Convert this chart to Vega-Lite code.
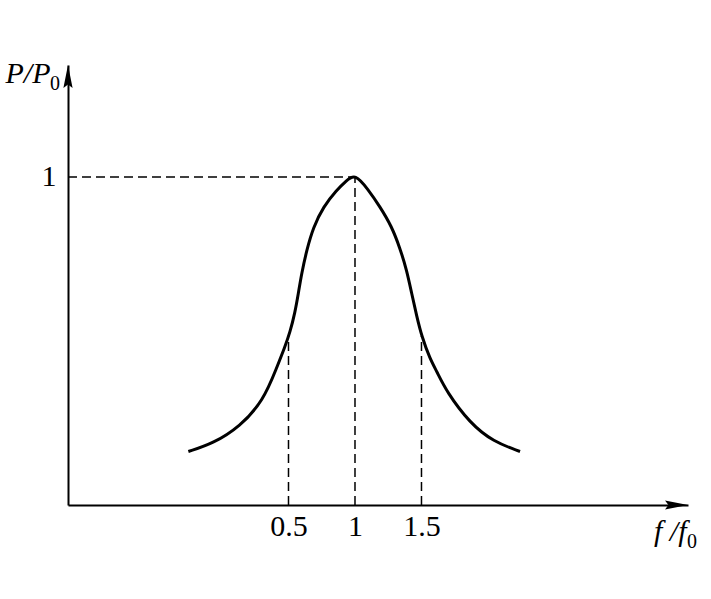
{
  "$schema": "https://vega.github.io/schema/vega-lite/v6.json",
  "width": 620,
  "height": 440,
  "autosize": "none",
  "padding": {"left": 68, "top": 65, "right": 23, "bottom": 94},
  "background": "white",
  "config": {"view": {"stroke": null}},
  "datasets": {
    "curve": [
      {"f": -0.253, "p": 0.163},
      {"f": -0.253, "p": 0.163},
      {"f": -0.065, "p": 0.188},
      {"f": 0.135, "p": 0.239},
      {"f": 0.311, "p": 0.318},
      {"f": 0.411, "p": 0.418},
      {"f": 0.474, "p": 0.483},
      {"f": 0.511, "p": 0.526},
      {"f": 0.549, "p": 0.587},
      {"f": 0.574, "p": 0.645},
      {"f": 0.599, "p": 0.706},
      {"f": 0.637, "p": 0.777},
      {"f": 0.686, "p": 0.846},
      {"f": 0.762, "p": 0.909},
      {"f": 0.862, "p": 0.960},
      {"f": 0.935, "p": 0.988},
      {"f": 1.0, "p": 1.01},
      {"f": 1.098, "p": 0.962},
      {"f": 1.188, "p": 0.909},
      {"f": 1.276, "p": 0.849},
      {"f": 1.338, "p": 0.783},
      {"f": 1.389, "p": 0.716},
      {"f": 1.426, "p": 0.645},
      {"f": 1.464, "p": 0.576},
      {"f": 1.501, "p": 0.515},
      {"f": 1.564, "p": 0.445},
      {"f": 1.614, "p": 0.408},
      {"f": 1.689, "p": 0.345},
      {"f": 1.865, "p": 0.249},
      {"f": 2.040, "p": 0.193},
      {"f": 2.241, "p": 0.163},
      {"f": 2.241, "p": 0.163}
    ],
    "guides": [
      {"f1": -1.158, "f2": 1.0, "p1": 1.0, "p2": 1.0},
      {"f1": 0.5, "f2": 0.5, "p1": 0.0, "p2": 0.51},
      {"f1": 1.0, "f2": 1.0, "p1": 0.0, "p2": 1.0},
      {"f1": 1.5, "f2": 1.5, "p1": 0.0, "p2": 0.515}
    ]
  },
  "layer": [
    {
      "data": {"name": "guides"},
      "mark": {"type": "rule", "color": "black", "strokeWidth": 1.5, "strokeDash": [9, 5]},
      "encoding": {
        "x": {"field": "f1", "type": "quantitative",
          "scale": {"domain": [-1.158, 3.504], "nice": false, "zero": false},
          "axis": {
            "values": [0.5, 1, 1.5],
            "labelExpr": "datum.value == 1 ? '1' : format(datum.value, '.1f')",
            "ticks": false, "grid": false,
            "domainColor": "black", "domainWidth": 2,
            "labelFont": "Liberation Serif", "labelFontSize": 30, "labelColor": "black",
            "labelPadding": 6, "labelFlush": false,
            "title": "f /f",
            "titleFont": "Liberation Serif", "titleFontSize": 30, "titleFontStyle": "italic",
            "titleFontWeight": "normal", "titleColor": "black",
            "titleAlign": "right", "titleBaseline": "alphabetic",
            "titleX": 618, "titleY": 35
          }},
        "x2": {"field": "f2"},
        "y": {"field": "p1", "type": "quantitative",
          "scale": {"domain": [0, 1.341], "nice": false, "zero": false},
          "axis": {
            "values": [1],
            "format": "d",
            "ticks": false, "grid": false,
            "domainColor": "black", "domainWidth": 2,
            "labelFont": "Liberation Serif", "labelFontSize": 30, "labelColor": "black",
            "labelPadding": 12,
            "title": "P/P",
            "titleFont": "Liberation Serif", "titleFontSize": 30, "titleFontStyle": "italic",
            "titleFontWeight": "normal", "titleColor": "black",
            "titleAngle": 0, "titleAlign": "right", "titleBaseline": "alphabetic",
            "titleX": -18, "titleY": 17
          }},
        "y2": {"field": "p2"}
      }
    },
    {
      "data": {"name": "curve"},
      "mark": {"type": "line", "color": "black", "strokeWidth": 3, "interpolate": "basis"},
      "encoding": {
        "x": {"field": "f", "type": "quantitative"},
        "y": {"field": "p", "type": "quantitative"}
      }
    },
    {
      "data": {"values": [{}]},
      "mark": {"type": "point", "filled": true, "color": "black", "opacity": 1, "size": 2116,
        "shape": "M0,0L-1,-0.2L-0.85,0L-1,0.2Z"},
      "encoding": {
        "x": {"datum": 3.504, "type": "quantitative"},
        "y": {"datum": 0, "type": "quantitative"}
      }
    },
    {
      "data": {"values": [{}]},
      "mark": {"type": "point", "filled": true, "color": "black", "opacity": 1, "size": 2116,
        "shape": "M0,0L-0.2,1L0,0.85L0.2,1Z"},
      "encoding": {
        "x": {"datum": -1.158, "type": "quantitative"},
        "y": {"datum": 1.341, "type": "quantitative"}
      }
    },
    {
      "data": {"values": [{}]},
      "mark": {"type": "text", "text": "0", "font": "Liberation Serif", "fontSize": 20,
        "color": "black", "align": "left", "baseline": "alphabetic", "dx": -18, "dy": 25},
      "encoding": {
        "x": {"datum": -1.158, "type": "quantitative"},
        "y": {"datum": 1.341, "type": "quantitative"}
      }
    },
    {
      "data": {"values": [{}]},
      "mark": {"type": "text", "text": "0", "font": "Liberation Serif", "fontSize": 20,
        "color": "black", "align": "left", "baseline": "alphabetic", "dx": -1, "dy": 43},
      "encoding": {
        "x": {"datum": 3.504, "type": "quantitative"},
        "y": {"datum": 0, "type": "quantitative"}
      }
    }
  ]
}
